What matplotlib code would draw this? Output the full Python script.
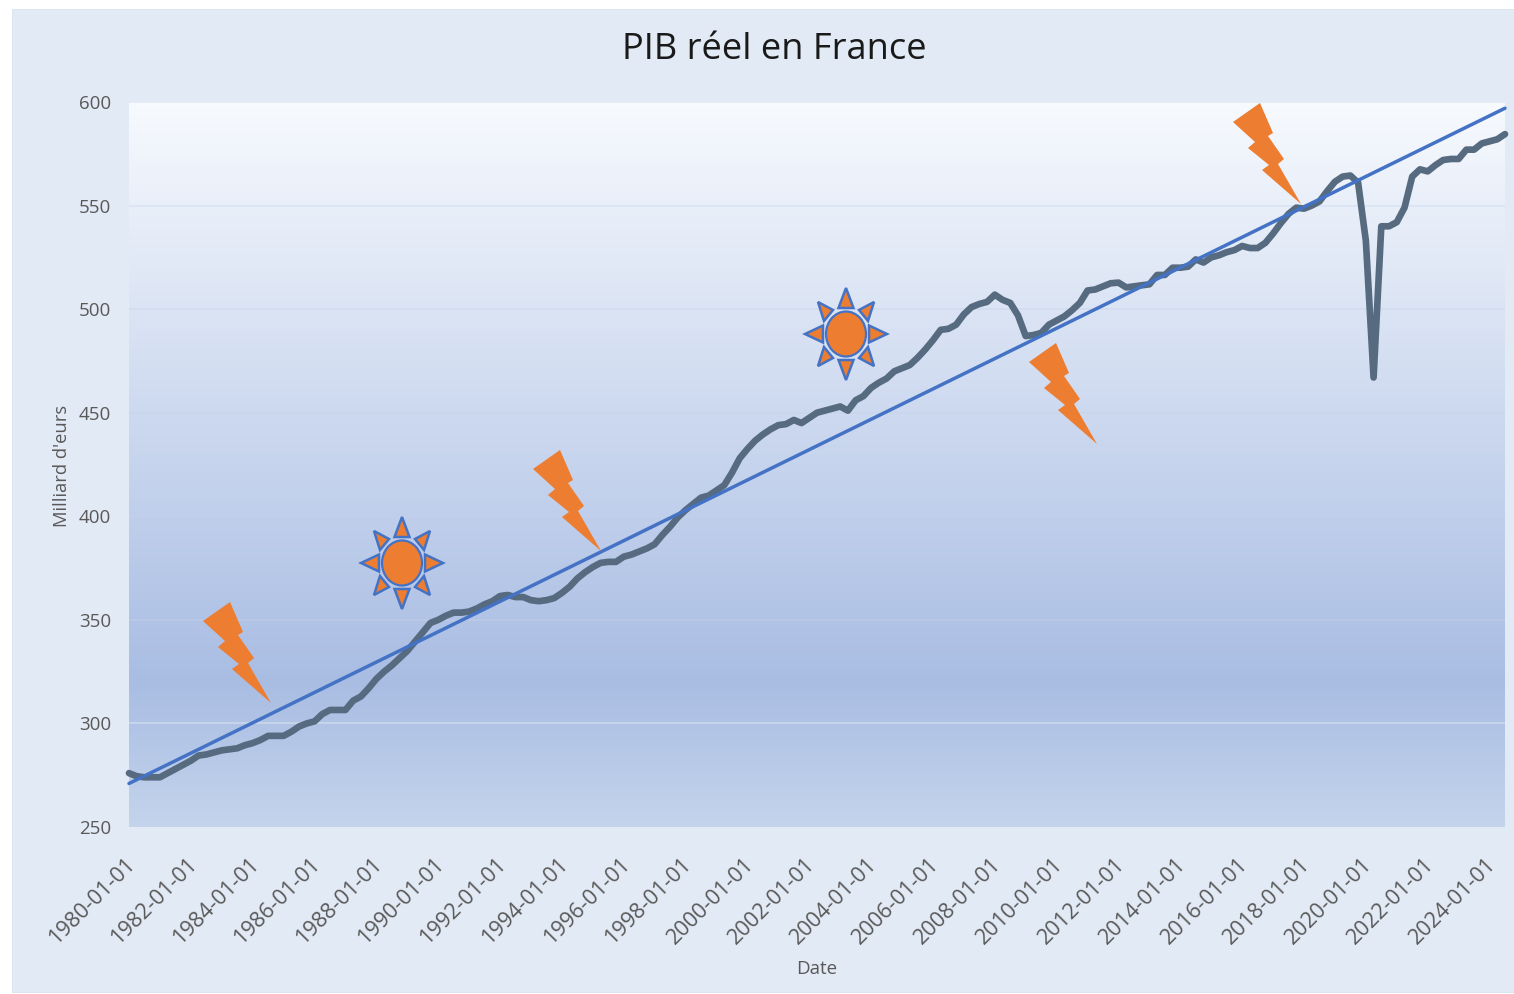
import matplotlib
matplotlib.use("Agg")
import matplotlib.pyplot as plt
import numpy as np
from matplotlib.colors import LinearSegmentedColormap
from matplotlib.patches import Polygon, Ellipse, Rectangle
from matplotlib.transforms import Affine2D

W, H = 1514, 994
plt.rcParams['font.family'] = ['Open Sans', 'DejaVu Sans']

title = "PIB réel en France"
x_label = "Date"
y_label = "Milliard d'eurs"
y_ticks = [250, 300, 350, 400, 450, 500, 550, 600]
tick_years = list(range(1980, 2025, 2))
tick_labels = [f"{y}-01-01" for y in tick_years]
gdp = [
    276, 274.5, 274, 274, 274, 276, 278, 280, 282, 284.5, 285, 286, 287, 287.5, 288, 289.5,
    290.5, 292, 294, 294, 294, 296, 298.5, 300, 301, 304.5, 306.5, 306.5, 306.5, 311, 313, 317,
    321.5, 325, 328, 331.5, 335, 339.5, 344, 348.5, 350, 352, 353.5, 353.5, 354, 355.5, 357.5, 359,
    361.5, 362, 361, 361, 359.5, 359, 359.5, 360.5, 363, 366, 370, 373, 375.5, 377.5, 378, 378,
    380.5, 381.5, 383, 384.5, 386.5, 391, 395, 399.5, 403, 406, 409, 410, 412.5, 415, 421, 428,
    432.5, 436.5, 439.5, 442, 444, 444.5, 446.5, 445, 447.5, 450, 451, 452, 453, 451, 456, 458,
    462, 464.5, 466.5, 470, 471.5, 473, 476.5, 480.5, 485, 490, 490.5, 492.5, 497.5, 501, 502.5, 503.5,
    507, 504.5, 503, 497, 487, 487.5, 488.5, 492.5, 494.5, 496.5, 499.5, 503, 509, 509.5, 511, 512.5,
    512.8, 510.5, 511, 511.5, 512, 516.5, 516.5, 520, 520, 520.5, 524, 522.5, 525, 526, 527.5, 528.5,
    530.5, 529.5, 529.5, 532, 536.5, 541.5, 546, 549, 548.5, 550, 552, 557, 561.5, 564, 564.5, 561,
    533, 467, 540, 540, 542, 549, 564, 567.5, 566.5, 569.5, 572, 572.5, 572.5, 577, 577, 580,
    581, 582, 584.5,
]
trend_ends = [271, 597]

BOLT_SHAPE = [(0, 0), (13, 30), (8, 33), (24, 56), (18, 61), (41, 101), (2, 67), (9, 62),
              (-12, 45), (-5, 39), (-27, 19)]
BOLT_TOPS = [(230, 602), (560, 450), (1056, 343), (1260, 103)]
SUN_CENTRES = [(402, 563), (846, 334)]
ORANGE, BLUE = '#ED7D31', '#4472C4'

fig = plt.figure(figsize=(W / 100, H / 100), dpi=100, facecolor='white')
px = Affine2D().scale(1, -1).translate(0, H)
fig.add_artist(Rectangle((12, 9), W - 12, 983, transform=px, fc='#E2EAF5', ec='#D8E1EF', lw=0.6, zorder=-5))

ax = fig.add_axes([129 / W, 1 - 827 / H, (1505 - 129) / W, (827 - 102) / H])
ax.patch.set_alpha(0)
cmap = LinearSegmentedColormap.from_list('bg', [(0, '#F7FAFE'), (0.8, '#A9BDE3'), (1, '#C4D4EC')], N=1024)
ax.imshow(np.linspace(0, 1, 1024)[:, None], cmap=cmap, aspect='auto', extent=(0, 1, 0, 1),
          transform=ax.transAxes, zorder=0, interpolation='bilinear')

xs = np.arange(len(gdp))
ax.plot(xs, gdp, color='#566A80', lw=4.8, solid_joinstyle='round', solid_capstyle='round', zorder=3, clip_on=False)
ax.plot([xs[0], xs[-1]], trend_ends, color=BLUE, lw=2.5, solid_capstyle='round', zorder=4, clip_on=False)

ax.set_xlim(0, len(gdp) - 1)
ax.set_ylim(250, 600)
ax.set_yticks(y_ticks)
ax.set_xticks(xs[::8])
ax.set_xticklabels(tick_labels, rotation=45, ha='right', va='center', rotation_mode='anchor')
ax.tick_params(axis='both', length=0, labelcolor='#595959')
ax.tick_params(axis='x', pad=24.7, labelsize=15.6)
ax.tick_params(axis='y', pad=13, labelsize=13.5)
ax.grid(axis='y', color='#C6D2EA', lw=1.1, alpha=0.45, zorder=1)
ax.get_ygridlines()[1].set_alpha(1)
ax.get_ygridlines()[1].set_color('#CCD9EE')
ax.set_axisbelow(True)
for s in ax.spines.values():
    s.set_visible(False)
shift = Affine2D().translate(3, 0)
for lab in ax.get_xticklabels():
    lab.set_transform(lab.get_transform() + shift)

fig.text(774 / W, 1 - 50 / H, title, ha='center', va='center', fontsize=26.1, color='#1A1A1A')
fig.text(817 / W, 1 - 969 / H, x_label, ha='center', va='center', fontsize=13.5, color='#595959')
fig.text(62 / W, 1 - 466 / H, y_label, ha='center', va='center', rotation=90, fontsize=13.2, color='#595959')

for tx, ty in BOLT_TOPS:
    pts = [(tx + dx, ty + dy) for dx, dy in BOLT_SHAPE]
    fig.add_artist(Polygon(pts, closed=True, transform=px, fc=ORANGE, ec='none', zorder=6))

RAYS = [[(0, -46), (-7.5, -26), (7.5, -26)], [(0, 46), (-7.5, 26), (7.5, 26)],
        [(41, 0), (23, -8.5), (23, 8.5)], [(-41, 0), (-23, -8.5), (-23, 8.5)],
        [(28, -32), (13, -24), (22, -13)], [(-28, -32), (-13, -24), (-22, -13)],
        [(28, 32), (13, 24), (22, 13)], [(-28, 32), (-13, 24), (-22, 13)]]
for cx, cy in SUN_CENTRES:
    fig.add_artist(Ellipse((cx, cy), 40, 45, transform=px, fc=ORANGE, ec=BLUE, lw=1.6, zorder=6))
    for ray in RAYS:
        pts = [(cx + dx, cy + dy) for dx, dy in ray]
        fig.add_artist(Polygon(pts, closed=True, transform=px, fc=ORANGE, ec=BLUE, lw=1.8, joinstyle='miter', zorder=6))

fig.savefig('out.png', dpi=100)
